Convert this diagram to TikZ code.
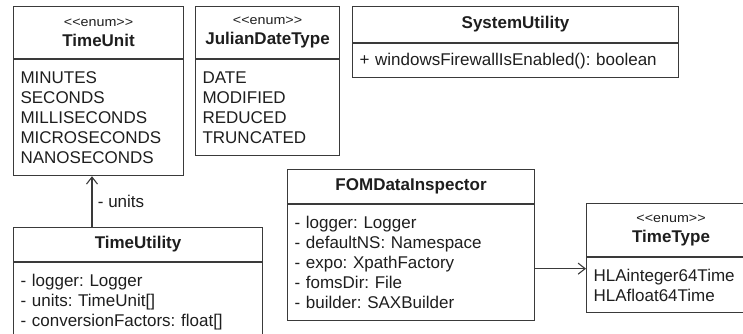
\documentclass[tikz,border=0pt]{standalone}
\usepackage{fontspec}
\setmainfont{Liberation Sans}
\newfontfamily\stereofont[FakeStretch=1.1]{Liberation Sans}
\usetikzlibrary{arrows.meta}
\definecolor{umlline}{HTML}{3A3A3A}
\definecolor{umltext}{HTML}{1E1E1E}
\newcommand{\stereo}[1]{{\stereofont\fontsize{13}{14}\selectfont #1}}
\frenchspacing
\begin{document}
\begin{tikzpicture}[x=1pt,y=-1pt,
	every node/.style={text=umltext, font=\fontsize{17}{20}\selectfont},
	classhead/.style={draw=umlline, line width=1.1pt, anchor=north west, inner xsep=7pt, inner ysep=0pt, align=center},
	classbody/.style={draw=umlline, line width=1.1pt, anchor=north west, inner xsep=7pt, inner ysep=0pt, align=left},
	assoc/.style={draw=umlline, line width=1.1pt, -{Straight Barb[length=7pt,width=11pt]}}]
	\useasboundingbox (0,0) rectangle (743,333);
	\clip (0,0) rectangle (743,333);
	% TimeUnit
	\node[classhead, text width=156, minimum height=52] (unit-head) at (13,6) {\stereo{<<enum>>}\\\textbf{TimeUnit}};
	\node[classbody, text width=156, minimum height=116] (unit-body) at (unit-head.south west) {MINUTES\\SECONDS\\MILLISECONDS\\MICROSECONDS\\NANOSECONDS};
	% JulianDateType
	\node[classhead, text width=130, minimum height=52] (julian-head) at (195,6) {\stereo{<<enum>>}\\\textbf{JulianDateType}};
	\node[classbody, text width=130, minimum height=96] (julian-body) at (julian-head.south west) {DATE\\MODIFIED\\REDUCED\\TRUNCATED};
	% SystemUtility
	\node[classhead, text width=312, minimum height=36] (sys-head) at (352,6) {\textbf{SystemUtility}};
	\node[classbody, text width=312, minimum height=34] (sys-body) at (sys-head.south west) {+ windowsFirewallIsEnabled(): boolean};
	% TimeUtility
	\node[classhead, text width=235, minimum height=34] (timeutil-head) at (13,227) {\textbf{TimeUtility}};
	\node[classbody, text width=235, minimum height=78] (timeutil-body) at (timeutil-head.south west) {- logger: Logger\\- units: TimeUnit[]\\- conversionFactors: float[]};
	% FOMDataInspector
	\node[classhead, text width=233, minimum height=34] (fom-head) at (287,169) {\textbf{FOMDataInspector}};
	\node[classbody, text width=233, minimum height=116] (fom-body) at (fom-head.south west) {- logger: Logger\\- defaultNS: Namespace\\- expo: XpathFactory\\- fomsDir: File\\- builder: SAXBuilder};
	% TimeType
	\node[classhead, text width=155, minimum height=53] (timetype-head) at (586,203) {\stereo{<<enum>>}\\\textbf{TimeType}};
	\node[classbody, text width=155, minimum height=55] (timetype-body) at (timetype-head.south west) {HLAinteger64Time\\HLAfloat64Time};
	% associations
	\draw[assoc] ([xshift=79pt]timeutil-head.north west) -- ([xshift=79pt]unit-body.south west) node[midway, right, xshift=2pt] (units-label) {- units};
	\draw[assoc] ([yshift=-6pt]fom-body.east) -- ([yshift=-6pt]fom-body.east -| timetype-body.west);
\end{tikzpicture}
\end{document}
